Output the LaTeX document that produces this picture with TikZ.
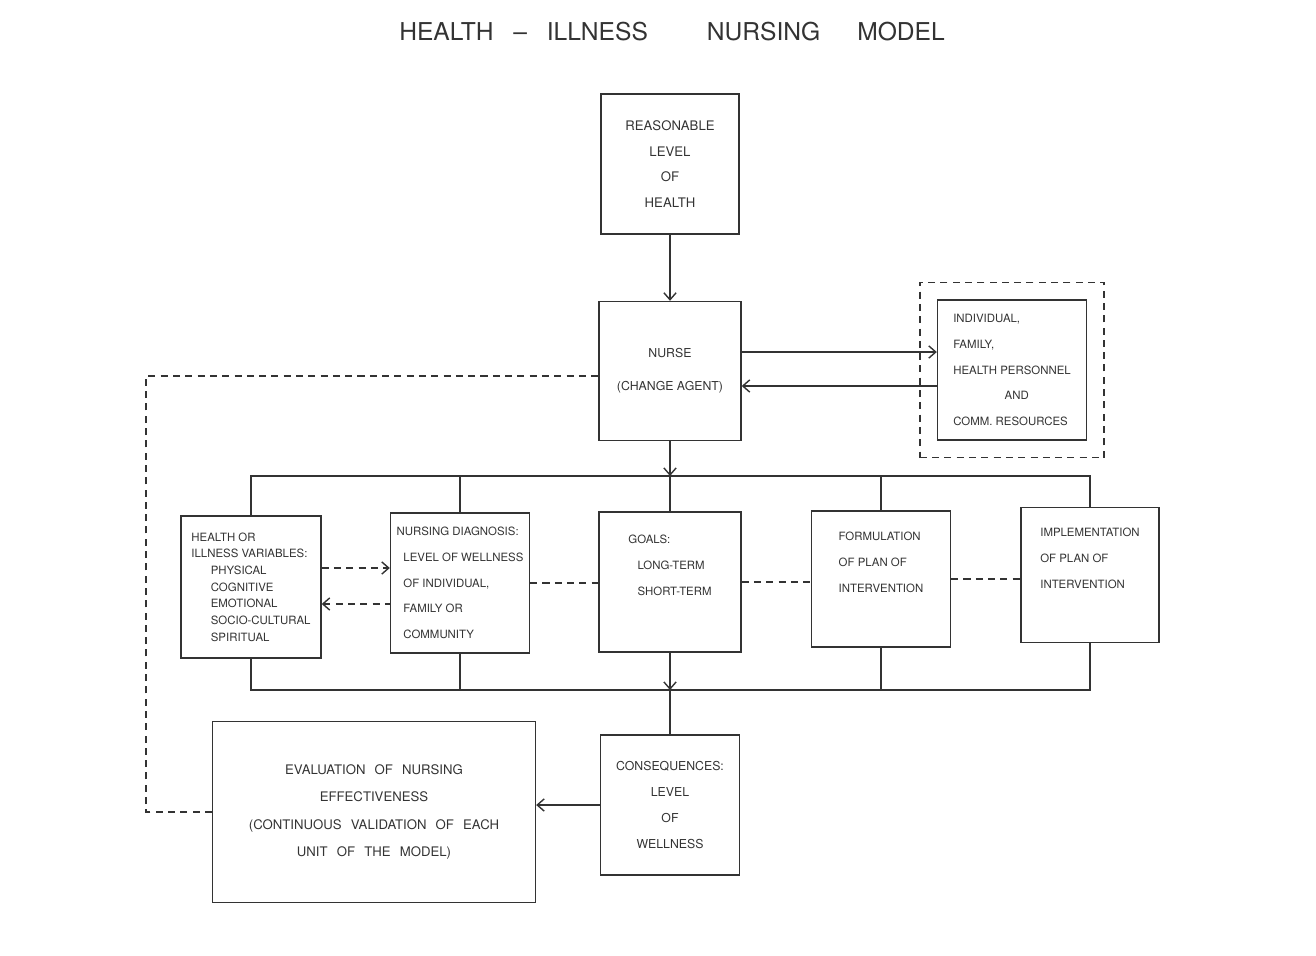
\documentclass[tikz,border=0pt]{standalone}
\usepackage{fontspec}
\setmainfont{TeX Gyre Heros}
\newfontfamily\widefont[WordSpace=2.5]{TeX Gyre Heros}
\usetikzlibrary{arrows.meta, positioning, fit}

\begin{document}
\begin{tikzpicture}[x=0.02cm, y=-0.02cm, line width=0.8pt, color=black!80,
    box/.style={draw, rectangle, inner sep=2pt, font=\fontsize{6.5}{14.7}\selectfont},
    link/.style={dashed, dash pattern=on 4pt off 3pt},
    >={Straight Barb[length=4pt,width=7pt]}]
    \useasboundingbox (0,0) rectangle (1316,956);

    \node[font=\fontsize{14}{16}\selectfont] (title) at (672,32)
        {HEALTH\hspace{0.8em}\textendash\hspace{0.8em}ILLNESS\hspace{2.4em}NURSING\hspace{1.5em}MODEL};

    \node[box, minimum width=2.76cm, minimum height=2.8cm, align=center,
          font=\fontsize{7.5}{14.7}\selectfont] (reason) at (670,164)
        {REASONABLE\\LEVEL\\OF\\HEALTH};
    \node[box, minimum width=2.84cm, minimum height=2.78cm, align=center,
          font=\fontsize{7}{14}\selectfont] (nurse) at (670,371)
        {NURSE\\[5pt](CHANGE AGENT)};
    \node[box, minimum width=2.98cm, minimum height=2.8cm, align=left] (indiv) at (1012,370)
        {INDIVIDUAL,\\FAMILY,\\HEALTH PERSONNEL\\\hspace*{4.5em}AND\\COMM. RESOURCES};
    \node[draw, link, fit=(indiv), inner sep=0.34cm] (frame) {};

    \node[box, minimum width=2.8cm, minimum height=2.84cm, align=left,
          font=\fontsize{6.5}{9.5}\selectfont] (health) at (251,587)
        {HEALTH OR\\ILLNESS VARIABLES:\\\hspace*{1.7em}PHYSICAL\\\hspace*{1.7em}COGNITIVE\\\hspace*{1.7em}EMOTIONAL\\\hspace*{1.7em}SOCIO-CULTURAL\\\hspace*{1.7em}SPIRITUAL};
    \node[box, minimum width=2.78cm, minimum height=2.8cm, align=left] (diag) at (460,583)
        {NURSING DIAGNOSIS:\\\hspace*{0.6em}LEVEL OF WELLNESS\\\hspace*{0.6em}OF INDIVIDUAL,\\\hspace*{0.6em}FAMILY OR\\\hspace*{0.6em}COMMUNITY};
    \node[box, minimum width=2.84cm, minimum height=2.8cm, align=left] (goals) at (670,582)
        {GOALS:\\\hspace*{0.8em}LONG-TERM\\\hspace*{0.8em}SHORT-TERM\\\strut};
    \node[box, minimum width=2.78cm, minimum height=2.72cm, align=left] (formul) at (881,579)
        {FORMULATION\\OF PLAN OF\\INTERVENTION\\\strut};
    \node[box, minimum width=2.76cm, minimum height=2.7cm, align=left] (impl) at (1090,575)
        {IMPLEMENTATION\\OF PLAN OF\\INTERVENTION\\\strut};

    \node[box, minimum width=2.78cm, minimum height=2.8cm, align=center,
          font=\fontsize{7}{14.7}\selectfont] (conseq) at (670,805)
        {CONSEQUENCES:\\LEVEL\\OF\\WELLNESS};
    \node[box, minimum width=6.46cm, minimum height=3.62cm, align=center,
          font=\widefont\fontsize{7.5}{15.5}\selectfont] (eval) at (374,812)
        {EVALUATION OF NURSING\\EFFECTIVENESS\\(CONTINUOUS VALIDATION OF EACH\\UNIT OF THE MODEL)};

    \coordinate (tb) at (0,476);
    \coordinate (bb) at (0,690);
    \coordinate (fb) at (146,376);

    \path[->] (reason) edge (nurse)
        (nurse) edge (nurse |- tb);
    \draw[->] ([yshift=0.38cm]nurse.east) -- ([yshift=0.38cm]nurse.east -| indiv.west);
    \draw[->] ([yshift=-0.32cm]indiv.west) -- ([yshift=-0.32cm]indiv.west -| nurse.east);

    \draw (health.north) |- (impl.north |- tb) -- (impl.north);
    \foreach \n in {diag, goals, formul}
        \draw (\n.north) -- (\n.north |- tb);
    \draw (health.south) |- (impl.south |- bb) -- (impl.south);
    \foreach \n in {diag, formul}
        \draw (\n.south) -- (\n.south |- bb);
    \draw[->] (goals.south) -- (goals.south |- bb);
    \draw (goals.south |- bb) -- (conseq);
    \draw[->] (conseq.west) -- (conseq.west -| eval.east);

    \draw[link, ->] ([yshift=0.38cm]health.east) -- ([yshift=0.38cm]health.east -| diag.west);
    \draw[link, <-] ([yshift=-0.34cm]health.east) -- ([yshift=-0.34cm]health.east -| diag.west);
    \draw[link] (diag.east) -- (diag.east -| goals.west);
    \draw[link] (goals.east) -- (goals.east -| formul.west);
    \draw[link] (formul.east) -- (formul.east -| impl.west);
    \draw[link] (eval.west) -| (fb) -- (fb -| nurse.west);
\end{tikzpicture}
\end{document}
